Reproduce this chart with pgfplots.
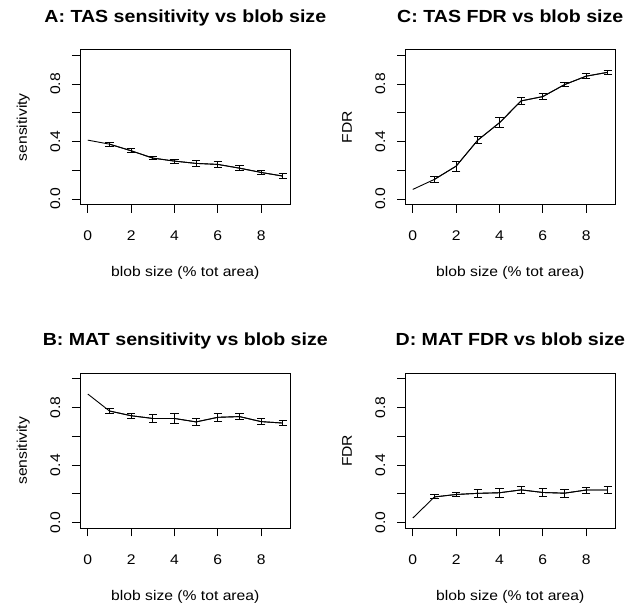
\documentclass[border=0pt]{standalone}
\usepackage{fontspec}
\setmainfont{Liberation Sans}[FakeStretch=1.12]
\usepackage{pgfplots}
\usepackage{pgfplotstable}
\pgfplotsset{compat=1.18}

% x, mean, half-width of error bar
\pgfplotstableread{
x y e
0 0.410 0
1 0.382 0.015
2 0.336 0.013
3 0.285 0.008
4 0.264 0.014
5 0.248 0.018
6 0.241 0.023
7 0.215 0.018
8 0.185 0.013
9 0.160 0.015
}\tasSens
\pgfplotstableread{
x y e
0 0.067 0
1 0.137 0.021
2 0.229 0.035
3 0.410 0.025
4 0.531 0.034
5 0.683 0.023
6 0.713 0.021
7 0.796 0.015
8 0.855 0.016
9 0.882 0.014
}\tasFDR
\pgfplotstableread{
x y e
0 0.895 0
1 0.777 0.019
2 0.744 0.019
3 0.725 0.026
4 0.725 0.035
5 0.701 0.022
6 0.733 0.026
7 0.738 0.022
8 0.703 0.020
9 0.693 0.019
}\matSens
\pgfplotstableread{
x y e
0 0.032 0
1 0.179 0.014
2 0.196 0.015
3 0.204 0.026
4 0.208 0.031
5 0.228 0.024
6 0.210 0.029
7 0.205 0.027
8 0.227 0.021
9 0.227 0.026
}\matFDR

\pgfplotsset{
  rpanel/.style={
    scale only axis, width=210.6pt, height=155.2pt,
    xmin=-0.36, xmax=9.36, ymin=-0.04, ymax=1.04,
    axis line style={black, line width=0.9pt},
    tick style={black, line width=0.9pt},
    tick align=outside, tick pos=left, major tick length=8pt,
    xtick={0,2,4,6,8},
    ytick={0,0.2,0.4,0.6,0.8,1},
    yticklabels={0.0,,0.4,,0.8,},
    /pgf/number format/assume math mode=true,
    ticklabel style={font=\fontsize{14}{16}\selectfont},
    xticklabel style={anchor=base}, xticklabel shift=28pt,
    yticklabel style={rotate=90, anchor=base}, yticklabel shift=12pt,
    label style={font=\fontsize{14}{16}\selectfont},
    xlabel={blob size (\% tot area)},
    xlabel style={at={(axis description cs:0.5,0)}, anchor=base, yshift=-72pt},
    ylabel style={at={(axis description cs:-0.252,0.5)}, anchor=base, rotate=0},
    title style={font=\bfseries\fontsize{17.5}{20}\selectfont,
      at={(axis description cs:0.5,1)}, anchor=base, yshift=21.3pt},
  },
  meanline/.style={black, line width=0.9pt, mark=none},
  errs/.style={black, line width=0.9pt, mark=none, forget plot,
    restrict x to domain=1:9,
    error bars/.cd, y dir=both, y explicit,
    error bar style={black, line width=0.9pt},
    error mark options={black, line width=0.9pt, mark size=4.2pt, rotate=90}},
}

\begin{document}
\begin{tikzpicture}
\useasboundingbox (0pt,0pt) rectangle (626pt,609pt);

\begin{axis}[rpanel, at={(80pt,404.2pt)}, title={A: TAS sensitivity vs blob size}, ylabel={sensitivity}]
  \addplot[meanline] table[x=x, y=y] {\tasSens};
  \addplot[errs] table[x=x, y=y, y error=e] {\tasSens};
\end{axis}

\begin{axis}[rpanel, at={(405pt,404.2pt)}, title={C: TAS FDR vs blob size}, ylabel={FDR}]
  \addplot[meanline] table[x=x, y=y] {\tasFDR};
  \addplot[errs] table[x=x, y=y, y error=e] {\tasFDR};
\end{axis}

\begin{axis}[rpanel, at={(80pt,80.6pt)}, title={B: MAT sensitivity vs blob size}, ylabel={sensitivity}]
  \addplot[meanline] table[x=x, y=y] {\matSens};
  \addplot[errs] table[x=x, y=y, y error=e] {\matSens};
\end{axis}

\begin{axis}[rpanel, at={(405pt,80.6pt)}, title={D: MAT FDR vs blob size}, ylabel={FDR}]
  \addplot[meanline] table[x=x, y=y] {\matFDR};
  \addplot[errs] table[x=x, y=y, y error=e] {\matFDR};
\end{axis}
\end{tikzpicture}
\end{document}
